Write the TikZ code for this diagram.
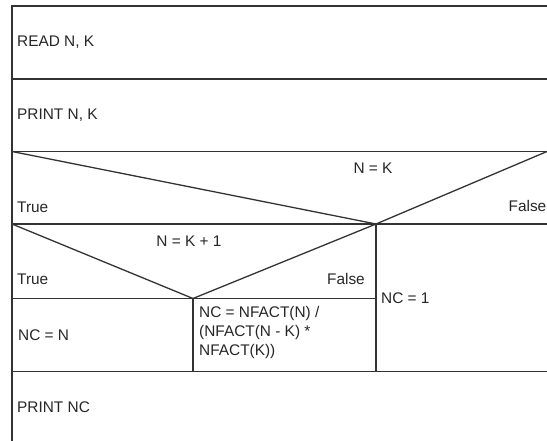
\documentclass[tikz,border=0pt]{standalone}
\usepackage{fontspec}
\setmainfont{Liberation Sans}
\usetikzlibrary{positioning}

\tikzset{
	lbl/.style={inner sep=0pt,anchor=base west,text=black!85,font=\fontsize{15.4}{19}\selectfont},
	box/.style={draw=black!80,line width=1.3pt}
}

\begin{document}
\begin{tikzpicture}[x=1pt,y=-1pt]
		\def\xl{12}
		\def\xr{547}
		\def\xm{376}
		\def\xa{193}
		\def\ya{6}
		\def\yb{79}
		\def\yc{151.5}
		\def\yd{224}
		\def\ye{298.5}
		\def\yf{371.5}
		\useasboundingbox (0,0) rectangle (547,441);
		
		%frame
		\draw[box] (\xl,441) -- (\xl,\ya) -- (\xr,\ya);
		\foreach \y in {\yb,\yc,\yd,\yf}{
			\draw[box] (\xl,\y) -- (\xr,\y);
		}
		\draw[box] (\xl,\ye) -- (\xm,\ye);
		\draw[box] (\xm,\yd) -- (\xm,\yf);
		\draw[box] (\xa,\ye) -- (\xa,\yf);
		
		%decisions
		\draw[box] (\xl,\yc) -- (\xm,\yd) -- (\xr,\yc);
		\draw[box] (\xl,\yd) -- (\xa,\ye) -- (\xm,\yd);
		
		\node[lbl] (read) at (17,46.7) {READ N, K};
		\node[lbl] (printnk) at (17,119.7) {PRINT N, K};
		\node[lbl,anchor=base] (cond1) at (373,174) {N = K};
		\node[lbl] (true1) at (17,212.3) {True};
		\node[lbl,anchor=base east] (false1) at (546.5,211.7) {False};
		\node[lbl,anchor=base] (cond2) at (189,247) {N = K + 1};
		\node[lbl] (true2) at (17,285) {True};
		\node[lbl,anchor=base east] (false2) at (365,285) {False};
		\node[lbl] (ncn) at (18,340) {NC = N};
		\node[lbl,align=left,anchor=north west] (ncfact) at (199,306) {NC = NFACT(N) /\\(NFACT(N - K) *\\NFACT(K))};
		\node[lbl] (nc1) at (381,303.3) {NC = 1};
		\node[lbl] (printnc) at (17,412) {PRINT NC};
	\end{tikzpicture}
\end{document}
